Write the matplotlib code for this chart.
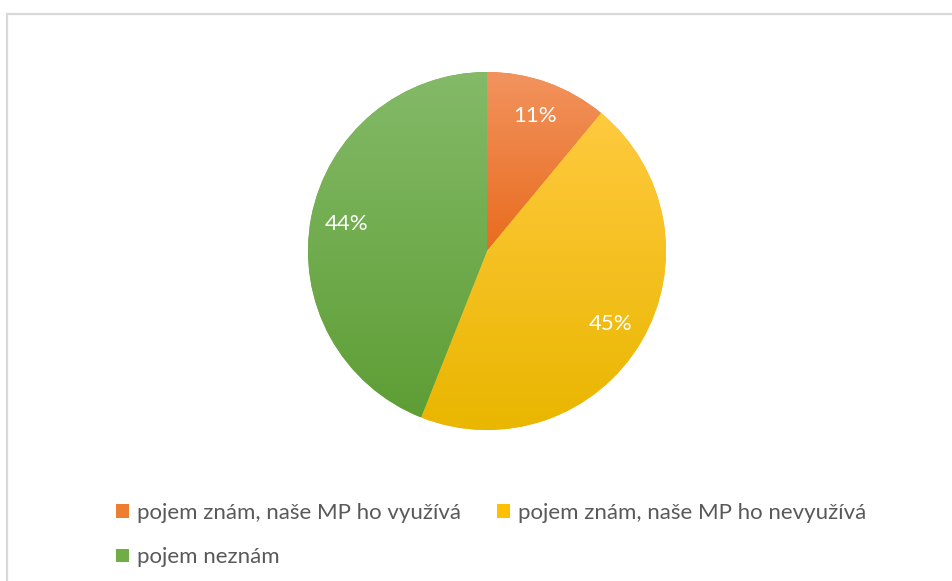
import numpy as np
import matplotlib
matplotlib.use("Agg")
import matplotlib.pyplot as plt
from matplotlib.colors import LinearSegmentedColormap
from matplotlib.patches import Rectangle, Patch

# data
kategorie = ["pojem znám, naše MP ho využívá",
             "pojem znám, naše MP ho nevyužívá",
             "pojem neznám"]
hodnoty = [11, 45, 44]
# gradient barvy (nahore, dole) a stredni barva pro legendu
barvy_gradient = [("#F2935E", "#E86C1E"),
                  ("#FFCA3E", "#E9B600"),
                  ("#84BA68", "#5E9E35")]
barvy_legenda = ["#ED7D31", "#FFC000", "#70AD47"]

plt.rcParams['font.family'] = ['Lato', 'DejaVu Sans']

W, H = 953, 581
fig = plt.figure(figsize=(W / 100, H / 100), dpi=100)

# ramecek grafu (pravy a spodni okraj orizly)
fig.patches.append(Rectangle((7 / W, -0.05), 1.0, (H - 14) / H + 0.05,
                             transform=fig.transFigure, fill=False,
                             edgecolor="#D9D9D9", linewidth=1.6))

cx, cy, r = 487.0, 251.0, 179.0
ax = fig.add_axes([(cx - r) / W, (H - cy - r) / H, 2 * r / W, 2 * r / H])

wedges, texts, autotexts = ax.pie(
    hodnoty, colors=barvy_legenda, startangle=90, counterclock=False,
    autopct='%1.0f%%', pctdistance=0.80,
    textprops=dict(color="white", fontsize=16))
ax.set_aspect("equal")

# gradient v kazde vysece
grad = np.linspace(0, 1, 256).reshape(-1, 1)
for w, (top, bottom) in zip(wedges, barvy_gradient):
    ext = w.get_path().get_extents()
    cmap = LinearSegmentedColormap.from_list("g", [top, bottom])
    im = ax.imshow(grad, cmap=cmap, aspect="auto", origin="upper",
                   extent=(ext.x0, ext.x1, ext.y0, ext.y1), zorder=2)
    im.set_clip_path(w)
    w.set_edgecolor("none")
for t in autotexts:
    t.set_zorder(5)
ax.set_xlim(-1, 1)
ax.set_ylim(-1, 1)

# legenda - poradi pro radkove plneni
handles = [Patch(facecolor=c, edgecolor="none") for c in barvy_legenda]
order = [0, 2, 1]
fig.legend([handles[i] for i in order], [kategorie[i] for i in order],
           ncol=2, loc="upper left", bbox_to_anchor=(116 / W, 1 - 503 / H),
           frameon=False, fontsize=16, labelcolor="#595959",
           handlelength=0.6, handleheight=0.55, handletextpad=0.35,
           columnspacing=1.6, labelspacing=1.1, borderpad=0, borderaxespad=0)

fig.savefig("out.png", dpi=100)
